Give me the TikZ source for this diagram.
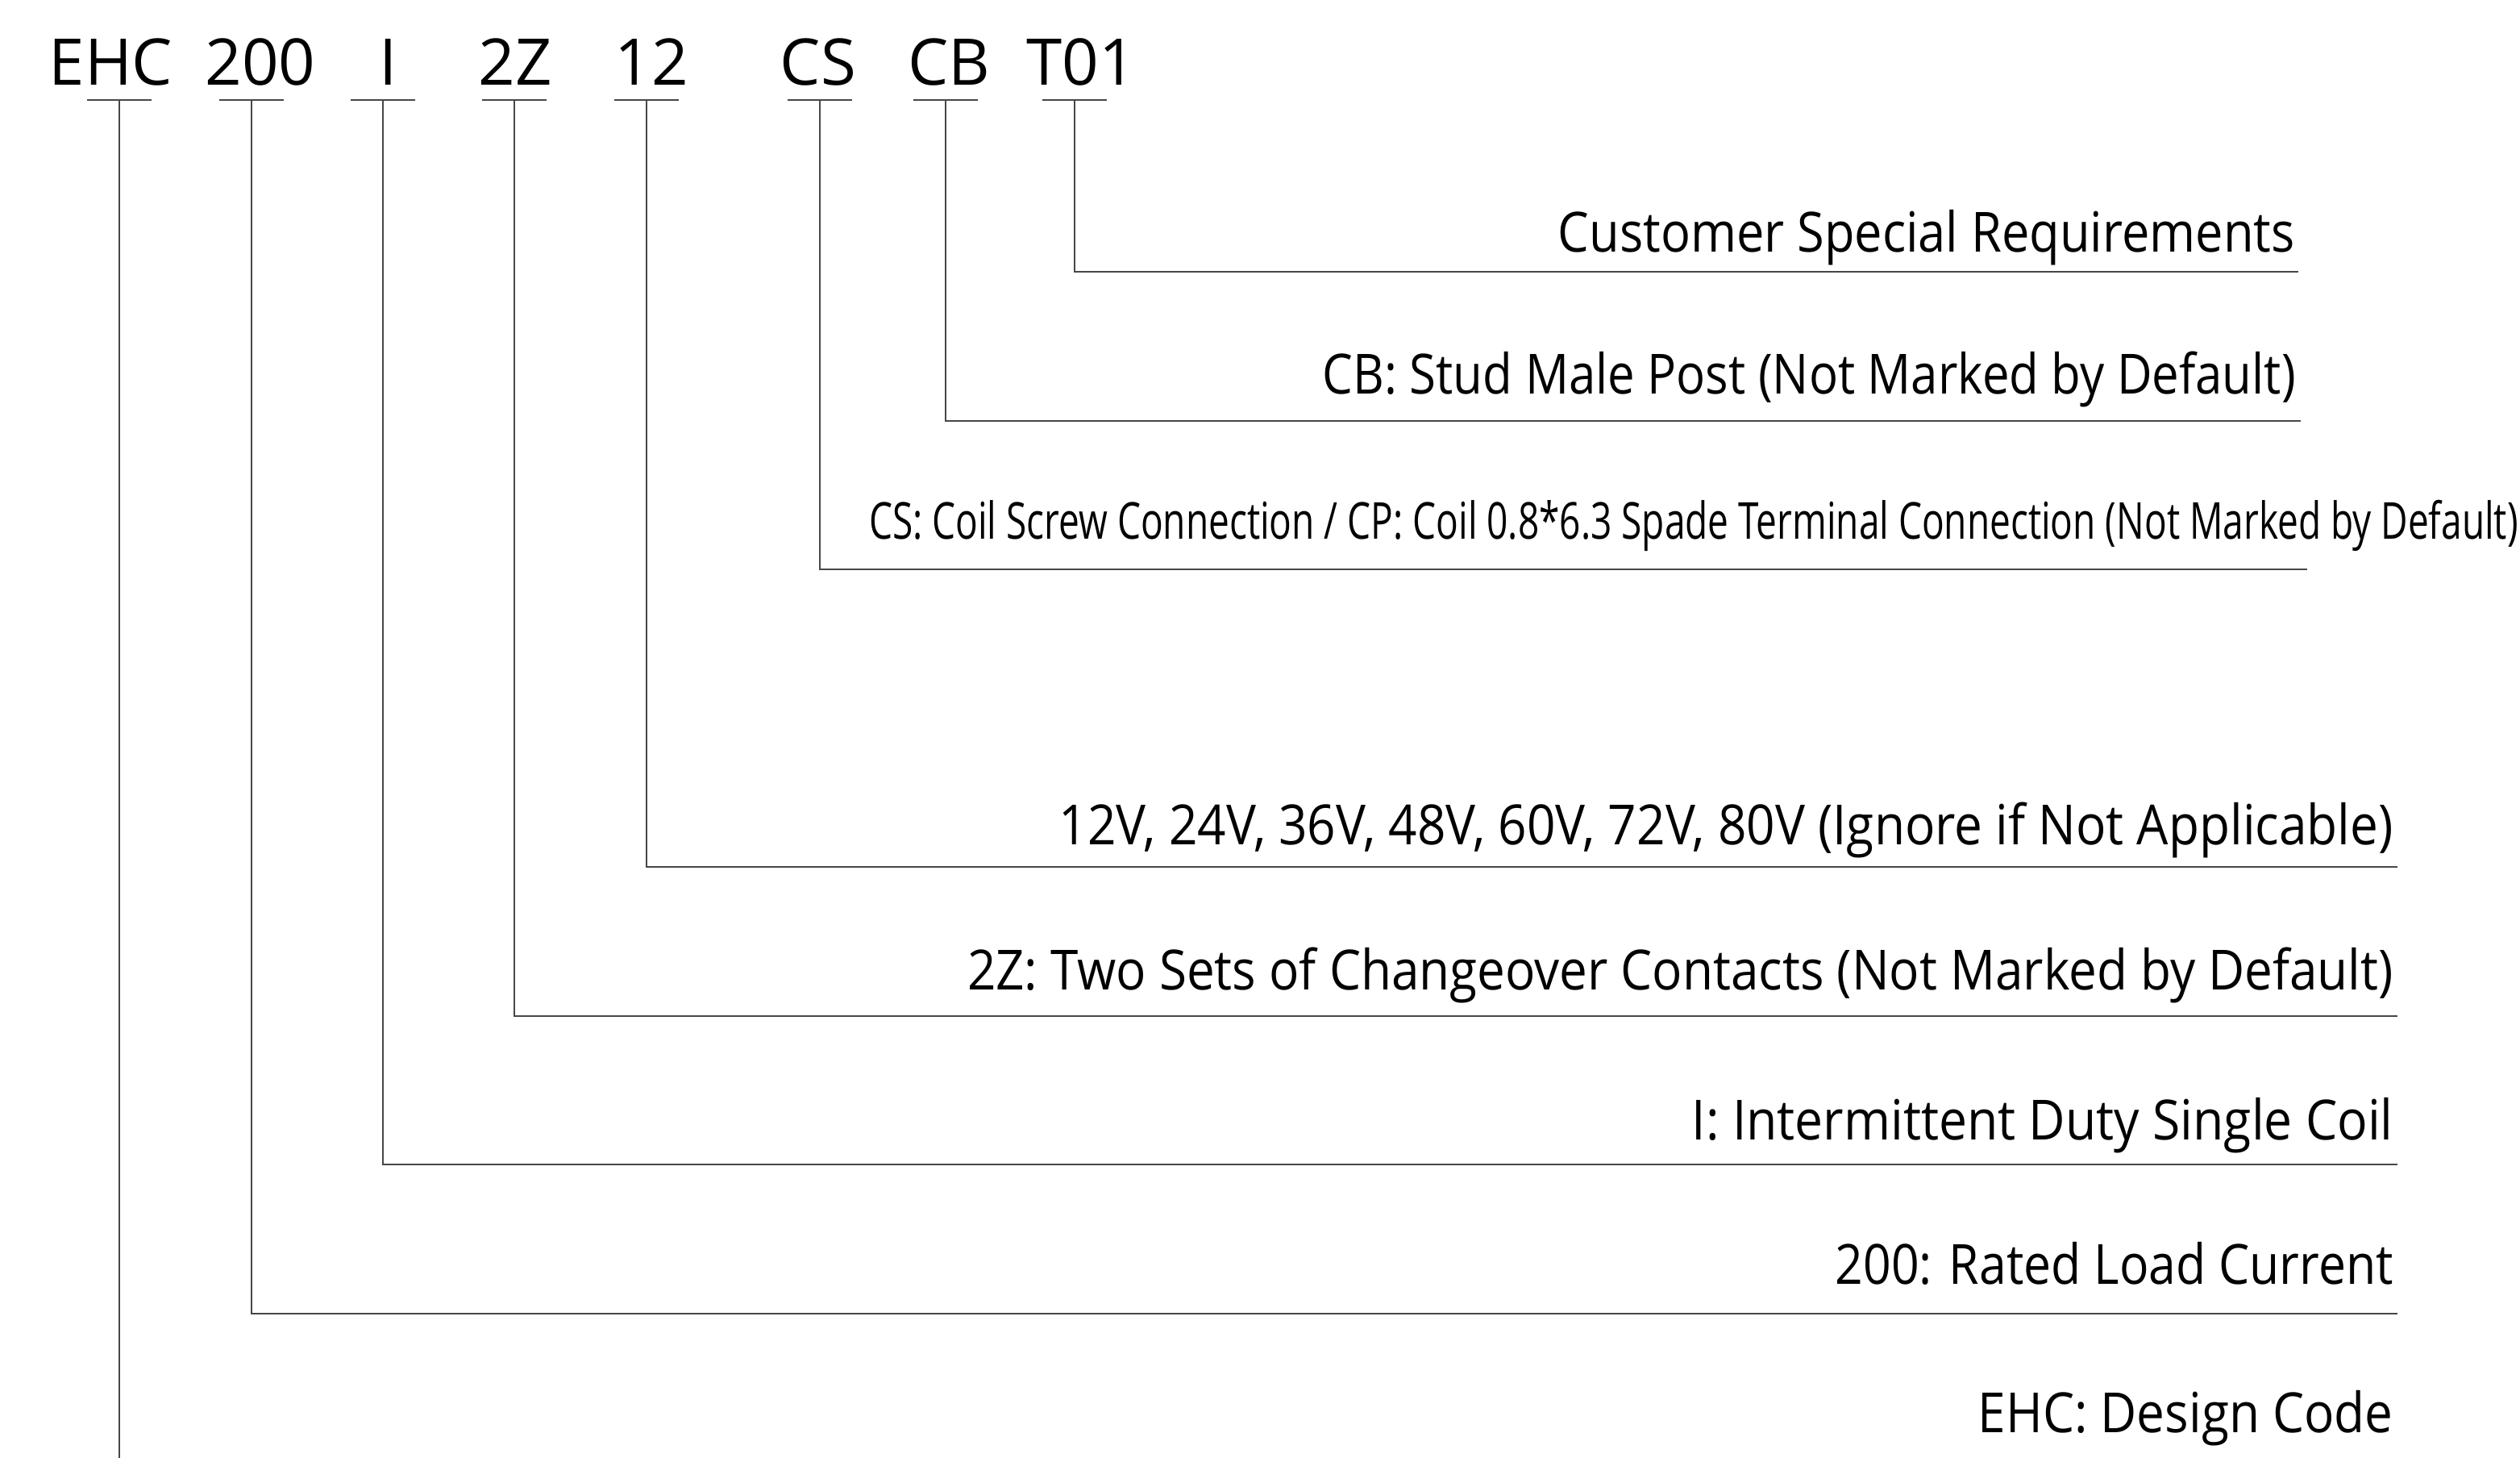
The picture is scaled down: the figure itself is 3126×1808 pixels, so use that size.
\documentclass[tikz,border=0pt]{standalone}
\usepackage{fontspec}
\setmainfont{Open Sans}
\newfontfamily\codefont{Open Sans}
\newsavebox\fitbox
\newcommand\fitw[2]{\sbox\fitbox{#2}\pgfmathsetmacro\fitsx{#1*0.569055/\the\wd\fitbox}\scalebox{\fitsx}[1]{\usebox\fitbox}}
\tikzset{
  conn/.style={draw=black!72, line width=1.2pt},
  code/.style={anchor=base, inner sep=0pt, font=\codefont\fontsize{45.4pt}{50pt}\selectfont},
  lab/.style={anchor=base east, inner sep=0pt, font=\fontsize{39.1pt}{44pt}\selectfont},
  labs/.style={anchor=base east, inner sep=0pt, font=\fontsize{35.9pt}{40pt}\selectfont},
}
\begin{document}
\begin{tikzpicture}[x=0.02cm, y=-0.02cm]
\useasboundingbox (0,0) rectangle (3126,1808);
% codes
\node[code] (c1) at (137.5,106) {EHC};
\node[code] (c2) at (323,106) {200};
\node[code] (c3) at (482,106) {I};
\node[code] (c4) at (639,106) {2Z};
\node[code] (c5) at (808,106) {12};
\node[code] (c6) at (1015,106) {CS};
\node[code] (c7) at (1177,106) {CB};
\node[code] (c8) at (1341,106) {T01};
% stub points
\coordinate (s1) at (148,124);
\coordinate (s2) at (312,124);
\coordinate (s3) at (475,124);
\coordinate (s4) at (638,124);
\coordinate (s5) at (802,124);
\coordinate (s6) at (1017,124);
\coordinate (s7) at (1173,124);
\coordinate (s8) at (1333,124);
% line ends
\coordinate (e1) at (148,1808);
\coordinate (e2) at (2974,1629);
\coordinate (e3) at (2974,1444);
\coordinate (e4) at (2974,1260);
\coordinate (e5) at (2974,1075);
\coordinate (e6) at (2862,706);
\coordinate (e7) at (2854,522);
\coordinate (e8) at (2851,337);
% stubs
\foreach \i in {1,...,8}{
  \draw[conn] ([xshift=-40*0.02cm]s\i) -- ([xshift=40*0.02cm]s\i);
}
% connectors
\draw[conn] (s1) -- (e1);
\foreach \i in {2,...,8}{
  \draw[conn] (s\i) |- (e\i);
}
% labels
\node[lab] (l8) at (2847,312) {\fitw{914}{Customer Special Requirements}};
\node[lab] (l7) at (2848,488) {\fitw{1207}{CB: Stud Male Post (Not Marked by Default)}};
\node[labs] (l6) at (3124,668) {\fitw{2046}{CS: Coil Screw Connection / CP: Coil 0.8*6.3 Spade Terminal Connection (Not Marked by Default)}};
\node[lab] (l5) at (2969,1047) {\fitw{1655}{12V, 24V, 36V, 48V, 60V, 72V, 80V (Ignore if Not Applicable)}};
\node[lab] (l4) at (2969,1227) {\fitw{1769}{2Z: Two Sets of Changeover Contacts (Not Marked by Default)}};
\node[lab] (l3) at (2969,1413) {\fitw{870}{I: Intermittent Duty Single Coil}};
\node[lab] (l2) at (2969,1592) {\fitw{692}{200: Rated Load Current}};
\node[lab] (l1) at (2969,1776) {\fitw{515}{EHC: Design Code}};
\end{tikzpicture}
\end{document}
